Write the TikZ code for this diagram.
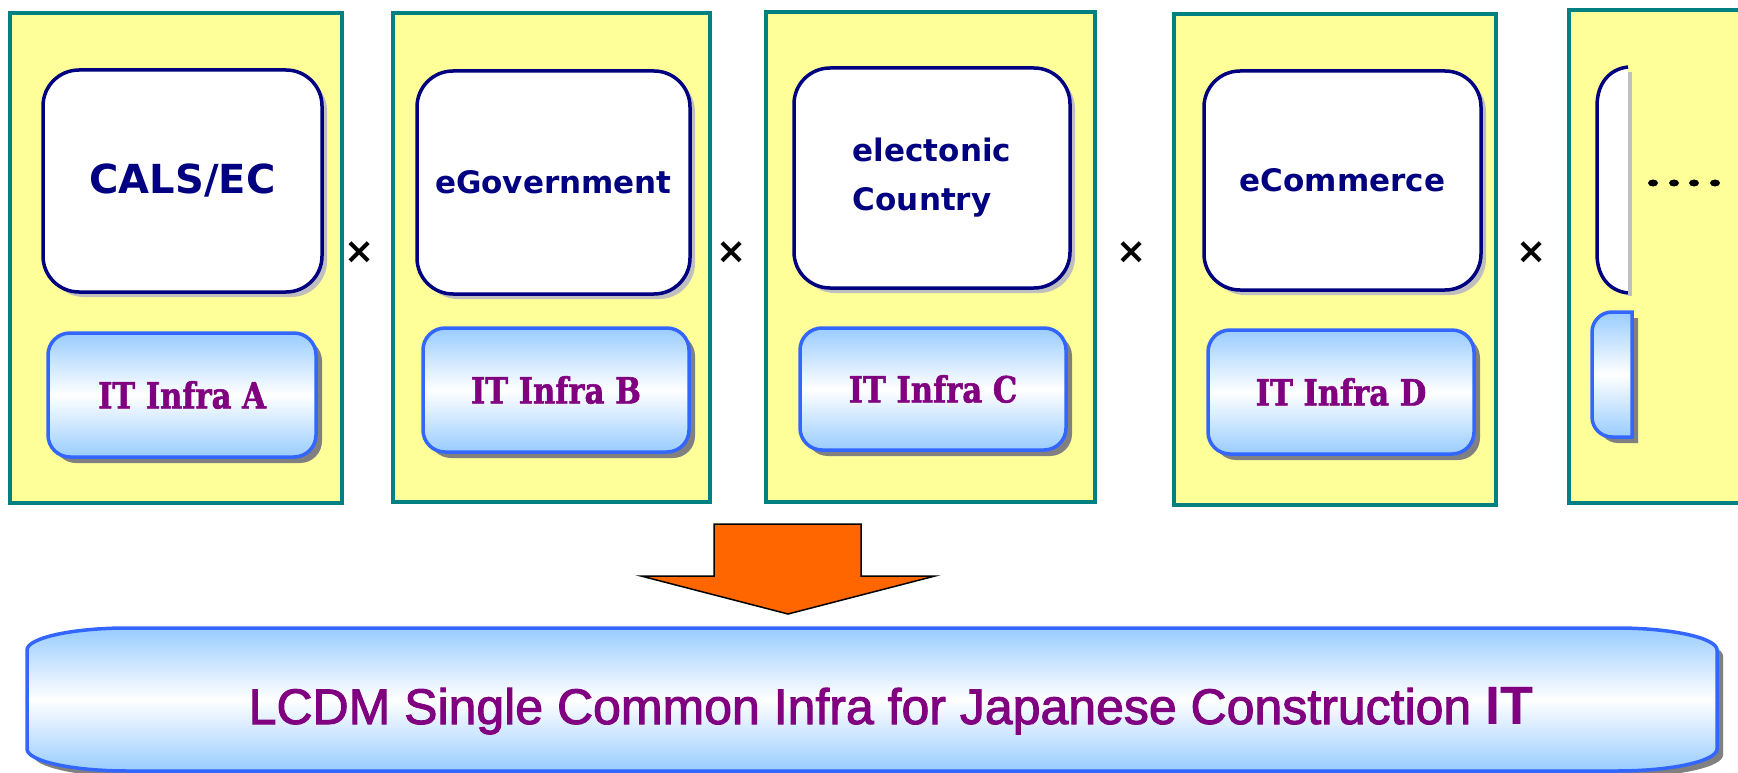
\documentclass[tikz,border=0pt]{standalone}
\usepackage{fontspec}
\setmainfont{Liberation Sans}
\newfontfamily\boxfont{DejaVu Sans}
\newfontfamily\infrafont[FakeStretch=0.85, BoldFeatures={FakeBold=1.5}]{DejaVu Serif}
\newfontfamily\barfont[UprightFeatures={FakeBold=2}]{Liberation Sans}
\usepackage{xcolor}
\usepackage{tikz}
\usetikzlibrary{positioning,shadows}
\definecolor{panelyellow}{HTML}{FFFF99}
\definecolor{panelteal}{HTML}{008080}
\definecolor{servicenavy}{HTML}{000080}
\definecolor{infrablue}{HTML}{3366FF}
\definecolor{infrasky}{HTML}{99CCFF}
\definecolor{infrapurple}{HTML}{800080}
\definecolor{arroworange}{HTML}{FF6600}
\definecolor{shadowlight}{HTML}{BFBFBF}
\definecolor{shadowdark}{HTML}{808080}
\tikzset{
    % The yellow panel: one application with its own IT infra
    panel/.style={
        draw=panelteal,
        fill=panelyellow,
        line width=3.5pt,
        inner sep=0pt
    },
    % The white box naming the application
    service/.style={
        draw=servicenavy,
        fill=white,
        line width=3.5pt,
        rounded corners=36pt,
        inner sep=0pt,
        text=servicenavy,
        font=\boxfont\bfseries\fontsize{31}{49}\selectfont,
        drop shadow={shadow xshift=5pt, shadow yshift=-5pt, fill=shadowlight, opacity=1}
    },
    % The blue shaded bar of an infra
    infrafill/.style={
        draw=infrablue,
        line width=3.5pt,
        top color=infrasky,
        bottom color=infrasky,
        middle color=white,
        drop shadow={shadow xshift=6pt, shadow yshift=-6pt, fill=shadowdark, opacity=1}
    },
    infra/.style={
        infrafill,
        rounded corners=22pt,
        inner sep=0pt,
        text=infrapurple,
        font=\infrafont\bfseries\fontsize{36}{40}\selectfont
    },
    crossmark/.style={
        font=\boxfont\bfseries\fontsize{36}{40}\selectfont,
        inner sep=0pt
    },
    bigarrow/.style={
        fill=arroworange,
        draw=black,
        line width=1.5pt,
        line join=miter
    }
}
\begin{document}
\begin{tikzpicture}[x=1pt,y=-1pt]
    \useasboundingbox (0,0) rectangle (1738,773);
    \begin{scope}
        \clip (0,0) rectangle (1738,773);

        % --- 1. Panels ---
        \node[panel, minimum width=332pt, minimum height=490pt] (panelA) at (176,258) {};
        \node[panel, minimum width=317pt, minimum height=489pt] (panelB) at (551.5,257.5) {};
        \node[panel, minimum width=329pt, minimum height=490pt] (panelC) at (930.5,257) {};
        \node[panel, minimum width=322pt, minimum height=491pt] (panelD) at (1335,259.5) {};
        % the last one runs past the edge of the slide
        \node[panel, minimum width=332pt, minimum height=493pt] (panelE) at (1735,256.5) {};

        % --- 2. Applications ---
        \node[service, minimum width=279pt, minimum height=222pt,
            font=\boxfont\bfseries\fontsize{40}{48}\selectfont] (cals) at (182.5,181) {CALS/EC};
        \node[service, minimum width=273pt, minimum height=223pt] (egov) at (553.5,182.5) {eGovernment};
        \node[service, minimum width=276pt, minimum height=220pt, align=left] (ecountry) at (932,178)
            {electonic\\Country};
        \node[service, minimum width=277pt, minimum height=219pt] (ecom) at (1342.5,180.5) {eCommerce};

        % cut-off application box on the right
        \fill[white] (1628,67) .. controls (1609,69) and (1597,84) .. (1597,106)
            -- (1597,254) .. controls (1597,276) and (1609,291) .. (1628,293) -- cycle;
        \draw[servicenavy, line width=3.5pt] (1628,67) .. controls (1609,69) and (1597,84) .. (1597,106)
            -- (1597,254) .. controls (1597,276) and (1609,291) .. (1628,293);
        \draw[shadowlight, line width=4pt] (1630,72) -- (1630,296);
        \foreach \dotx in {1653,1674,1694,1715}
            \fill (\dotx,183) ellipse [x radius=5pt, y radius=3.5pt];

        % --- 3. IT infras ---
        \node[infra, minimum width=268pt, minimum height=124pt] (infraA) at (182,395) {IT Infra A};
        \node[infra, minimum width=266pt, minimum height=124pt] (infraB) at (556,390) {IT Infra B};
        \node[infra, minimum width=266pt, minimum height=122pt] (infraC) at (933,389) {IT Infra C};
        \node[infra, minimum width=266pt, minimum height=124pt] (infraD) at (1341,392) {IT Infra D};
        \path[infrafill] (1632,312) -- (1612,312) .. controls (1601,312) and (1592,321) .. (1592,332)
            -- (1592,417) .. controls (1592,428) and (1601,437) .. (1612,437) -- (1632,437) -- cycle;

        % --- 4. Crosses between the panels ---
        \node[crossmark] (crossAB) at (360,253) {×};
        \node[crossmark] (crossBC) at (732,253) {×};
        \node[crossmark] (crossCD) at (1132,253) {×};
        \node[crossmark] (crossDE) at (1532,253) {×};

        % --- 5. Arrow and common infra ---
        \draw[bigarrow] (714,524) -- (861,524) -- (861,576) -- (935,576) -- (788,614)
            -- (641,576) -- (714,576) -- cycle;

        \path[infrafill] (127,628) -- (1617,628) .. controls (1672,628) and (1717,638) .. (1717,650)
            -- (1717,749) .. controls (1717,761) and (1672,771) .. (1617,771)
            -- (127,771) .. controls (72,771) and (27,761) .. (27,749)
            -- (27,650) .. controls (27,638) and (72,628) .. (127,628) -- cycle;
        \node[anchor=base, inner sep=0pt, text=infrapurple, font=\barfont\fontsize{50}{60}\selectfont]
            (common) at (891,724)
            {LCDM Single Common Infra for Japanese Construction {\bfseries\fontsize{54}{60}\selectfont IT}};
    \end{scope}
\end{tikzpicture}
\end{document}
